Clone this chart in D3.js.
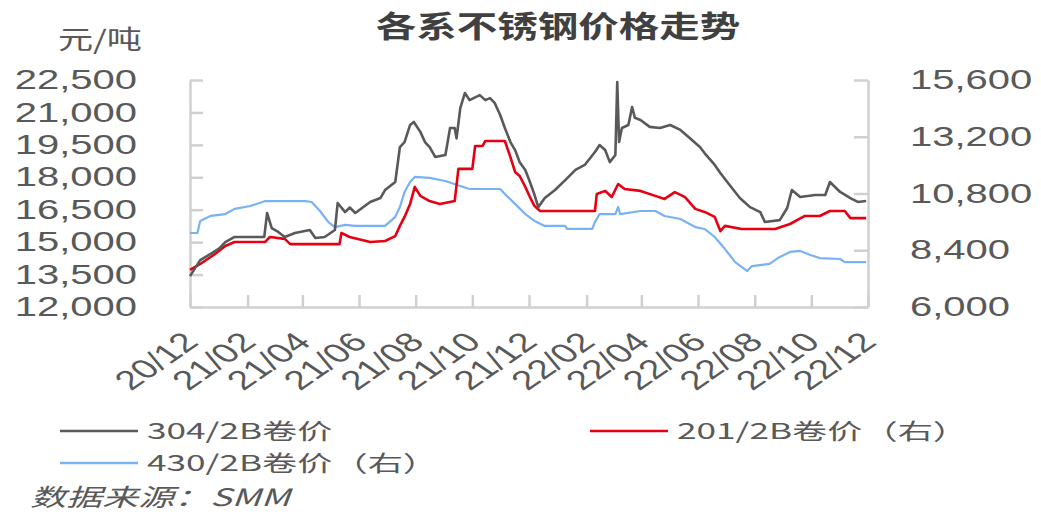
<!DOCTYPE html>
<html>
<head>
<meta charset="utf-8">
<script src="https://cdn.jsdelivr.net/npm/d3@7"></script>
<style>
  body { margin: 0; background: #fff; }
  svg text { font-family: "Noto Sans CJK SC", "Noto Sans", sans-serif; fill: #595959; }
  svg .tick text { font-family: "Liberation Sans", Arial, sans-serif; }
</style>
</head>
<body>
<svg id="chart" width="1041" height="517"></svg>
<script>
// 304/2B (left axis)
var dates304 = ["2020-12-01","2020-12-12","2020-12-25","2021-01-02","2021-01-08","2021-01-18","2021-02-19","2021-02-22","2021-02-27","2021-03-06","2021-03-13","2021-03-24","2021-04-09","2021-04-15","2021-04-25","2021-05-06","2021-05-09","2021-05-17","2021-05-22","2021-05-28","2021-06-13","2021-06-24","2021-06-29","2021-07-10","2021-07-15","2021-07-20","2021-07-26","2021-07-30","2021-08-06","2021-08-11","2021-08-16","2021-08-22","2021-09-02","2021-09-07","2021-09-12","2021-09-14","2021-09-18","2021-09-23","2021-09-28","2021-10-09","2021-10-15","2021-10-20","2021-10-25","2021-10-31","2021-11-05","2021-11-11","2021-11-16","2021-11-21","2021-11-27","2021-12-02","2021-12-07","2021-12-11","2021-12-18","2021-12-29","2022-01-09","2022-01-20","2022-01-30","2022-02-10","2022-02-15","2022-02-21","2022-02-26","2022-03-04","2022-03-06","2022-03-08","2022-03-11","2022-03-18","2022-03-22","2022-03-25","2022-03-31","2022-04-10","2022-04-21","2022-05-02","2022-05-13","2022-05-23","2022-06-03","2022-06-08","2022-06-19","2022-06-25","2022-07-05","2022-07-16","2022-07-27","2022-08-07","2022-08-12","2022-08-28","2022-09-05","2022-09-10","2022-09-19","2022-10-05","2022-10-16","2022-10-21","2022-11-01","2022-11-12","2022-11-20","2022-11-29"];
var price304 = [13430,14170,14500,14730,15000,15240,15240,16350,15650,15470,15240,15420,15560,15190,15240,15560,16810,16390,16600,16350,16860,17040,17410,17780,19400,19630,20420,20560,20100,19630,19400,18940,19030,20280,20280,19800,21200,21900,21570,21800,21570,21660,21440,20880,20280,19630,19260,18700,18340,17780,17180,16620,17040,17410,17870,18340,18570,19170,19490,19260,18700,19030,22400,19630,20280,20420,21250,20750,20650,20330,20280,20420,20190,19820,19400,19120,18570,18200,17640,17040,16620,16390,15930,16020,16580,17410,17090,17180,17180,17780,17320,17040,16860,16900];

// 201/2B (right axis)
var dates201 = ["2020-12-01","2020-12-12","2020-12-28","2021-01-08","2021-01-18","2021-02-20","2021-02-25","2021-03-13","2021-03-19","2021-05-11","2021-05-13","2021-05-22","2021-06-13","2021-06-29","2021-07-10","2021-07-15","2021-07-20","2021-07-26","2021-07-31","2021-08-06","2021-08-16","2021-08-27","2021-09-12","2021-09-16","2021-10-01","2021-10-04","2021-10-12","2021-10-15","2021-11-05","2021-11-11","2021-11-16","2021-11-21","2021-11-27","2021-12-02","2021-12-07","2021-12-13","2022-02-10","2022-02-12","2022-02-21","2022-02-28","2022-03-07","2022-03-14","2022-03-31","2022-04-16","2022-04-26","2022-05-07","2022-05-18","2022-05-29","2022-06-08","2022-06-19","2022-06-25","2022-06-30","2022-07-18","2022-08-23","2022-09-08","2022-09-24","2022-10-10","2022-10-21","2022-11-06","2022-11-12","2022-11-29"];
var price201 = [7565,7820,8240,8580,8750,8750,8960,8880,8660,8660,9130,8960,8750,8790,9000,9430,9810,10360,11080,10700,10480,10360,10480,11840,11840,12810,12810,13020,13020,12340,11710,11540,11080,10650,10270,10060,10060,10780,10910,10650,11200,10990,10910,10700,10570,10860,10650,10150,10020,9810,9210,9430,9300,9300,9510,9850,9850,10060,10060,9760,9760];

// 430/2B (right axis)
var dates430 = ["2020-12-01","2020-12-09","2020-12-12","2020-12-23","2021-01-08","2021-01-18","2021-02-04","2021-02-20","2021-04-04","2021-04-11","2021-04-20","2021-04-29","2021-05-06","2021-05-17","2021-05-28","2021-06-29","2021-07-10","2021-07-15","2021-07-20","2021-07-26","2021-07-31","2021-08-16","2021-09-02","2021-09-18","2021-09-28","2021-10-31","2021-11-05","2021-11-16","2021-11-27","2021-12-07","2021-12-18","2022-01-09","2022-01-11","2022-02-07","2022-02-10","2022-02-15","2022-03-04","2022-03-07","2022-03-09","2022-03-31","2022-04-16","2022-04-26","2022-05-13","2022-05-29","2022-06-08","2022-06-19","2022-06-30","2022-07-11","2022-07-24","2022-07-29","2022-08-17","2022-08-26","2022-09-08","2022-09-19","2022-09-30","2022-10-10","2022-11-01","2022-11-06","2022-11-29"];
var price430 = [9130,9130,9640,9850,9930,10150,10270,10480,10480,10440,10060,9590,9380,9470,9430,9430,9810,10230,10860,11290,11500,11460,11330,11120,10990,10990,10780,10360,9930,9640,9430,9430,9300,9300,9590,9930,9930,10230,9930,10060,10060,9850,9720,9380,9300,8960,8450,7900,7520,7730,7820,8070,8330,8370,8200,8070,8030,7900,7900];

var leftTicks = [12000, 13500, 15000, 16500, 18000, 19500, 21000, 22500];
var rightTicks = [6000, 8400, 10800, 13200, 15600];
var seriesNames = ["304/2B卷价", "201/2B卷价（右）", "430/2B卷价（右）"];

var svg = d3.select("#chart");
var parse = d3.timeParse("%Y-%m-%d");
var textColor = "#595959", axisColor = "#d0d0d0";

var x = d3.scaleTime().domain([parse("2020-12-01"), parse("2022-12-01")]).range([190, 868]);
var yL = d3.scaleLinear().domain([12000, 22500]).range([307, 80]);
var yR = d3.scaleLinear().domain([6000, 15600]).range([307, 80]);

// the source picture is stretched sideways, so text gets widened too
function stretch(sel, k) {
  sel.each(function() {
    var w = this.getComputedTextLength();
    d3.select(this).attr("textLength", w * k).attr("lengthAdjust", "spacingAndGlyphs");
  });
}

function styleAxis(g) {
  g.attr("font-family", null).attr("font-size", null);
  g.select(".domain").attr("stroke", axisColor).attr("stroke-width", 2.5);
  g.selectAll(".tick line").attr("stroke", axisColor).attr("stroke-width", 2.5);
  g.selectAll(".tick text").attr("fill", textColor).attr("font-size", 27);
}

// x axis, a label every two months
var monthTicks = d3.timeMonth.range(parse("2020-12-01"), parse("2022-12-02"), 2);
var gx = svg.append("g").attr("transform", "translate(0,307)")
  .call(d3.axisBottom(x).tickValues(monthTicks)
    .tickSize(-12).tickSizeOuter(0).tickFormat(d3.timeFormat("%y/%m")));
styleAxis(gx);
gx.selectAll(".tick text")
  .attr("y", 0).attr("dy", "0.35em")
  .attr("text-anchor", "end")
  .attr("transform", "translate(0,30) scale(1.45,1) rotate(-45)");

// left axis
var gl = svg.append("g").attr("transform", "translate(190,0)")
  .call(d3.axisLeft(yL).tickValues(leftTicks).tickSize(-13).tickSizeOuter(0)
    .tickPadding(53).tickFormat(d3.format(",")));
styleAxis(gl);
stretch(gl.selectAll(".tick text"), 1.48);

// right axis
var gr = svg.append("g").attr("transform", "translate(868,0)")
  .call(d3.axisRight(yR).tickValues(rightTicks).tickSize(-14).tickSizeOuter(0)
    .tickPadding(42).tickFormat(d3.format(",")));
styleAxis(gr);
stretch(gr.selectAll(".tick text"), 1.48);

// lines
function drawLine(dates, values, y, color, width) {
  var pts = dates.map(function(d, i) { return [parse(d), values[i]]; });
  svg.append("path")
    .datum(pts)
    .attr("fill", "none")
    .attr("stroke", color)
    .attr("stroke-width", width)
    .attr("stroke-linejoin", "round")
    .attr("d", d3.line().x(function(d) { return x(d[0]); }).y(function(d) { return y(d[1]); }));
}
var colors = ["#595959", "#e60012", "#78b2f2"];
drawLine(dates430, price430, yR, colors[2], 2.2);
drawLine(dates201, price201, yR, colors[1], 2.6);
drawLine(dates304, price304, yL, colors[0], 2.6);

// title and unit
var title = svg.append("text").attr("x", 558).attr("y", 26).attr("dy", "0.35em")
  .attr("text-anchor", "middle").attr("font-size", 30).attr("font-weight", "bold")
  .style("fill", "#404040").text("各系不锈钢价格走势");
stretch(title, 1.35);

var unit = svg.append("text").attr("x", 142).attr("y", 40).attr("dy", "0.35em")
  .attr("text-anchor", "end").attr("font-size", 26).text("元/吨");
stretch(unit, 1.35);

// legend
var legendPos = [[60, 431], [590, 431], [60, 463]];
var legend = svg.append("g");
seriesNames.forEach(function(name, i) {
  var p = legendPos[i];
  legend.append("line").attr("x1", p[0]).attr("x2", p[0] + 78).attr("y1", p[1]).attr("y2", p[1])
    .attr("stroke", colors[i]).attr("stroke-width", 2.6);
  var t = legend.append("text").attr("x", p[0] + 87).attr("y", p[1]).attr("dy", "0.35em")
    .attr("font-size", 22).text(name);
  stretch(t, 1.6);
});

var src = svg.append("text").attr("x", 30).attr("y", 498).attr("dy", "0.35em")
  .attr("font-size", 24).attr("font-style", "italic").text("数据来源：SMM");
stretch(src, 1.5);
</script>
</body>
</html>
